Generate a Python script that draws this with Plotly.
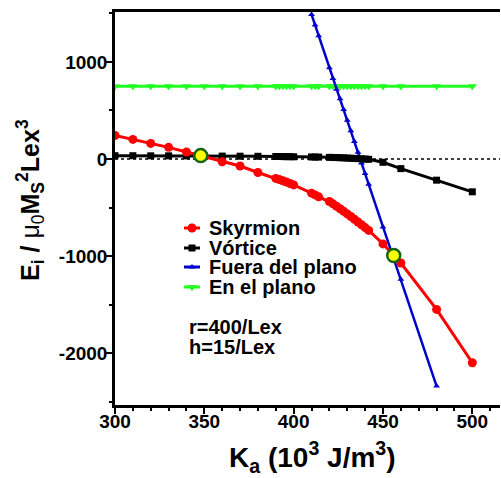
import plotly.graph_objects as go

# ---- data ----
ka = [300, 310, 320, 330, 340, 350, 360, 370, 380, 390, 392, 394, 396, 398, 400,
      410, 412, 414, 420, 422, 424, 426, 428, 430, 432, 434, 436, 438, 440, 442,
      450, 460, 480, 500]
skyrmion = [242, 202, 161, 120, 72, 25, -28, -72, -139, -200, -212, -225, -238, -252, -267,
            -352, -370, -390, -438, -462, -487, -513, -539, -566, -593, -621, -649, -678, -707, -736,
            -875, -1072, -1550, -2100]
vortice = [34, 34, 33, 33, 32, 31, 30, 29, 28, 26, 26, 25, 24, 24, 23,
           21, 20, 20, 17, 16, 15, 13, 12, 10, 8, 6, 4, 2, 0, -3,
           -34, -99, -218, -338]
en_plano = [750] * len(ka)
ka_fuera = [410, 412, 414, 420, 422, 424, 426, 428, 430, 432, 434, 436, 438, 440, 442,
            450, 460, 480]
fuera = [1490, 1380, 1270, 940, 830, 720, 620, 510, 400, 290, 180, 70, -40, -150, -260,
         -700, -1240, -2340]
cross_x = [348, 456]
cross_y = [35, -995]

x_ticks = [300, 350, 400, 450, 500]
x_ticklabels = ["300", "350", "400", "450", "500"]
y_ticks = [-2000, -1000, 0, 1000]
y_ticklabels = ["-2000", "-1000", "0", "1000"]

names = ["Skyrmion", "Vórtice", "Fuera del plano", "En el plano"]
colors = ["#ff0000", "#000000", "#0000cc", "#22ff22"]
symbols = ["circle", "square", "triangle-up", "triangle-down"]
msizes = [9, 7, 6, 8]

FONT = "Liberation Sans, Arial, sans-serif"

# layout geometry (pixels)
W, H = 501, 478
L, R, T, B = 115, 1, 12, 73
PW, PH = W - L - R, H - T - B


def px(xp):
    return (xp - L) / PW


def py(yp):
    return (H - B - yp) / PH


fig = go.Figure()

series = [(ka, en_plano, 3), (ka_fuera, fuera, 2.5), (ka, vortice, 3), (ka, skyrmion, 3)]
order = [3, 2, 1, 0]
for idx, (xs, ys, lw) in zip(order, series):
    fig.add_trace(go.Scatter(x=xs, y=ys, mode="lines+markers", name=names[idx],
                             line=dict(color=colors[idx], width=lw),
                             marker=dict(symbol=symbols[idx], size=msizes[idx], color=colors[idx]),
                             showlegend=False, cliponaxis=True))

fig.add_trace(go.Scatter(x=cross_x, y=cross_y, mode="markers", showlegend=False,
                         marker=dict(size=13, color="#ffff00",
                                     line=dict(color="#146414", width=2.5))))

# ---- legend (drawn in pixel space on an overlay axis) ----
leg_rows = [228, 248, 267, 287]
leg_sym_x = [184, 192, 200]
for i, yy in enumerate(leg_rows):
    fig.add_trace(go.Scatter(x=leg_sym_x, y=[yy] * 3, mode="lines", xaxis="x2", yaxis="y2",
                             line=dict(color=colors[i], width=3), showlegend=False,
                             hoverinfo="skip"))
    fig.add_trace(go.Scatter(x=[leg_sym_x[1]], y=[yy], mode="markers", xaxis="x2", yaxis="y2",
                             marker=dict(symbol=symbols[i], size=msizes[i], color=colors[i]),
                             showlegend=False, hoverinfo="skip"))

annotations = []
for i, yy in enumerate(leg_rows):
    annotations.append(dict(x=px(207), y=py(yy), xref="paper", yref="paper",
                            text="<b>%s</b>" % names[i],
                            showarrow=False, xanchor="left", yanchor="middle",
                            font=dict(family=FONT, size=20, color="black")))
annotations.append(dict(x=px(187), y=py(327), xref="paper", yref="paper", text="<b>r=400/Lex</b>",
                        showarrow=False, xanchor="left", yanchor="middle",
                        font=dict(family=FONT, size=20, color="black")))
annotations.append(dict(x=px(187), y=py(347), xref="paper", yref="paper", text="<b>h=15/Lex</b>",
                        showarrow=False, xanchor="left", yanchor="middle",
                        font=dict(family=FONT, size=20, color="black")))
# axis titles
annotations.append(dict(x=px(312), y=py(457), xref="paper", yref="paper",
                        text="<b>K<sub>a</sub> (10<sup>3</sup> J/m<sup>3</sup>)</b>",
                        showarrow=False, xanchor="center", yanchor="middle",
                        font=dict(family=FONT, size=28, color="black")))
annotations.append(dict(x=px(30), y=py(200), xref="paper", yref="paper", textangle=-90,
                        text="<b>E<sub>i</sub> / </b>μ<sub>0</sub><b>M<sub>S</sub><sup>2</sup>Lex<sup>3</sup></b>",
                        showarrow=False, xanchor="center", yanchor="middle",
                        font=dict(family=FONT, size=25, color="black")))

tickfont = dict(family=FONT, size=19, color="black", weight="bold")

fig.update_layout(
    width=W, height=H,
    margin=dict(l=L, r=R, t=T, b=B, pad=0),
    paper_bgcolor="white", plot_bgcolor="white",
    font=dict(family=FONT, color="black"),
    showlegend=False,
    annotations=annotations,
    shapes=[dict(type="line", xref="paper", yref="y", x0=0, x1=1, y0=0, y1=0,
                 line=dict(color="black", width=1.5, dash="dot"), layer="below")],
    xaxis=dict(range=[300, 515.5], tickvals=x_ticks, ticktext=x_ticklabels,
               ticks="outside", ticklen=6, tickwidth=2, tickcolor="black",
               showline=True, linewidth=2.5, linecolor="black", mirror=True,
               showgrid=False, zeroline=False, automargin=False,
               tickfont=tickfont, ticklabelstandoff=-9,
               minor=dict(dtick=10, tick0=300, ticks="outside", ticklen=3, tickwidth=1.5,
                          tickcolor="black", showgrid=False)),
    yaxis=dict(range=[-2535, 1515], tickvals=y_ticks, ticktext=y_ticklabels,
               ticks="outside", ticklen=6, tickwidth=2, tickcolor="black",
               showline=True, linewidth=2.5, linecolor="black",
               showgrid=False, zeroline=False, automargin=False,
               tickfont=tickfont, ticklabelstandoff=-5,
               minor=dict(dtick=500, tick0=0, ticks="outside", ticklen=3, tickwidth=1.5,
                          tickcolor="black", showgrid=False)),
    xaxis2=dict(overlaying="x", range=[L, W - R], visible=False, fixedrange=True,
                anchor="y2", automargin=False),
    yaxis2=dict(overlaying="y", range=[H - B, T], visible=False, fixedrange=True,
                anchor="x2", automargin=False),
)

fig.write_html("out.html", config={"displayModeBar": False},
               post_script="document.body.style.margin='0';document.body.style.overflow='hidden';")
